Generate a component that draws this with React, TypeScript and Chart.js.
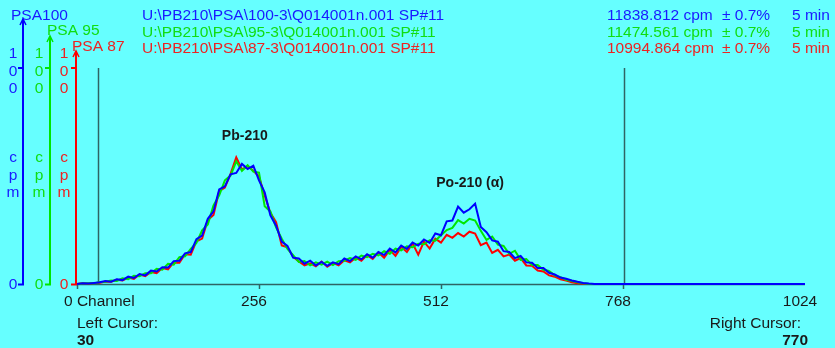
import React, { useEffect, useRef } from "react";
import { Chart, registerables } from "chart.js";

Chart.register(...registerables);

// ---- data (channel grid: every STEP channels from 0, then END_CHANNEL) ----
const STEP = 8;
const END_CHANNEL = 1024;

const BLUE_CPM = [
  0, 0.3, 0.2, 0.5, 0.8, 1.4, 1.1, 2.2, 1.8, 3.4,
  2.8, 4.6, 4.0, 6.2, 5.8, 7.8, 7.6, 10.6, 10.8, 14.2,
  14.8, 20.8, 22.4, 30.2, 33.6, 43.8, 45.2, 50.8, 51.4, 55.6,
  53.2, 54.8, 48.0, 42.4, 31.8, 27.0, 19.6, 17.6, 12.2, 11.8,
  9.4, 10.8, 8.6, 10.2, 8.4, 10.0, 9.2, 11.8, 10.6, 12.8,
  11.4, 13.8, 12.2, 14.8, 13.4, 16.4, 14.6, 17.8, 16.2, 19.2,
  17.8, 20.6, 19.0, 23.4, 22.6, 29.0, 29.4, 35.8, 33.0, 34.6,
  37.2, 26.4, 24.0, 20.2, 19.6, 15.2, 14.8, 12.0, 13.0, 10.0,
  9.8, 7.4, 7.4, 5.2, 4.4, 3.0, 2.4, 1.6, 1.0, 0.5,
  0.2, 0,
];

const GREEN_CPM = [
  0, 0.2, 0.4, 0.3, 0.9, 1.0, 1.6, 1.4, 2.6, 2.2,
  3.8, 3.6, 5.0, 5.0, 7.0, 6.6, 9.4, 9.0, 12.4, 12.8,
  16.2, 19.0, 24.8, 27.6, 36.4, 41.0, 48.0, 50.2, 56.8, 52.4,
  55.0, 52.0, 51.6, 36.0, 33.6, 26.2, 21.0, 16.2, 13.4, 10.2,
  10.6, 8.6, 10.0, 9.0, 10.4, 8.8, 10.6, 10.8, 12.0, 11.2,
  13.2, 12.4, 14.0, 13.2, 15.2, 14.0, 16.4, 15.6, 17.4, 17.0,
  18.6, 18.4, 20.2, 20.0, 22.6, 25.0, 26.0, 29.6, 28.0, 30.2,
  29.4, 24.6, 20.4, 22.0, 18.2, 17.6, 14.0, 15.4, 11.2, 11.6,
  8.8, 8.8, 6.6, 6.0, 4.0, 3.2, 2.0, 1.4, 0.8, 0.3,
  0, 0,
];

const RED_CPM = [
  0, 0.3, 0.1, 0.5, 0.6, 1.2, 1.0, 2.0, 1.6, 3.0,
  2.4, 4.4, 3.6, 5.6, 5.0, 7.4, 6.8, 10.0, 9.8, 13.8,
  13.6, 19.8, 21.0, 29.6, 32.0, 43.0, 44.6, 51.0, 58.6, 53.0,
  54.6, 52.4, 49.8, 41.0, 33.0, 28.6, 17.8, 17.0, 12.6, 10.4,
  8.6, 9.6, 8.2, 10.4, 8.0, 9.8, 8.6, 11.0, 10.0, 12.2,
  10.8, 13.4, 11.6, 14.6, 12.2, 15.8, 13.0, 17.2, 14.8, 18.8,
  13.6, 19.6, 16.4, 21.0, 19.2, 22.8, 21.4, 23.6, 22.0, 24.2,
  23.4, 18.0, 19.2, 14.4, 15.8, 12.8, 13.6, 10.8, 12.0, 8.6,
  8.4, 6.2, 5.8, 4.0, 3.4, 2.2, 1.6, 0.8, 0.4, 0.1,
  0, 0,
];

const X_TICKS = [0, 256, 512, 768, 1024];
const X_TICK_MARKS = [0, 256, 512, 768];
const Y_MAX = 100;
const LEFT_CURSOR = 30;
const RIGHT_CURSOR = 770;

const SERIES_NAMES = ["PSA100", "PSA 95", "PSA 87"];
const FILE_PATHS = [
  "U:\\PB210\\PSA\\100-3\\Q014001n.001 SP#11",
  "U:\\PB210\\PSA\\95-3\\Q014001n.001 SP#11",
  "U:\\PB210\\PSA\\87-3\\Q014001n.001 SP#11",
];
const RATES = ["11838.812 cpm", "11474.561 cpm", "10994.864 cpm"];
const ERRORS = ["\u00b1 0.7%", "\u00b1 0.7%", "\u00b1 0.7%"];
const TIMES = ["5 min", "5 min", "5 min"];

const PEAK_LABELS = ["Pb-210", "Po-210 (\u03b1)"];
const PEAK_CHANNELS = [236, 553];
const PEAK_LEVELS = [68.3, 46.6];

// ---- styles ----
const BG = "#66ffff";
const COLORS = ["#0000ff", "#00e600", "#ff0000"];
const TEXT_COLORS = ["#1a1aff", "#11dd11", "#ee2222"];
const DARK = "#1a1a1a";
const AXIS = "#2f6464";
const FONT = "Liberation Sans, Arial, sans-serif";

const toPoints = (arr: number[]) => [
  ...arr.map((v, i) => ({ x: i * STEP, y: v })),
  { x: END_CHANNEL, y: 0 },
];

const decorPlugin = {
  id: "decor",
  beforeDraw(chart: any) {
    const ctx = chart.ctx;
    ctx.save();
    ctx.fillStyle = BG;
    ctx.fillRect(0, 0, chart.width, chart.height);
    ctx.restore();
  },
  beforeDatasetsDraw(chart: any) {
    const ctx = chart.ctx;
    const xs = chart.scales.x;
    const ys = chart.scales.y;
    const y0 = ys.getPixelForValue(0);
    const yTop = ys.getPixelForValue(Y_MAX);
    ctx.save();
    ctx.strokeStyle = AXIS;
    ctx.lineWidth = 1.5;
    ctx.beginPath();
    ctx.moveTo(xs.getPixelForValue(0), y0 + 0.5);
    ctx.lineTo(xs.getPixelForValue(END_CHANNEL), y0 + 0.5);
    ctx.stroke();
    X_TICK_MARKS.forEach((t) => {
      const px = Math.round(xs.getPixelForValue(t)) + 0.5;
      ctx.beginPath();
      ctx.moveTo(px, y0);
      ctx.lineTo(px, y0 + 5);
      ctx.stroke();
    });
    [LEFT_CURSOR, RIGHT_CURSOR].forEach((c) => {
      const px = Math.round(xs.getPixelForValue(c)) + 0.5;
      ctx.beginPath();
      ctx.moveTo(px, yTop);
      ctx.lineTo(px, y0);
      ctx.stroke();
    });
    ctx.restore();
  },
  afterDraw(chart: any) {
    const ctx = chart.ctx;
    const xs = chart.scales.x;
    const ys = chart.scales.y;
    const y0 = ys.getPixelForValue(0);
    const yTop = ys.getPixelForValue(Y_MAX);
    ctx.save();

    const axisX = [23, 50, 76];
    const axisTop = [19, 36, 51];
    const labelX = [13, 39, 64];
    const nameX = [11, 47, 72];
    const nameY = [16, 31, 47];
    for (let i = 0; i < 3; i++) {
      const ax = axisX[i];
      ctx.strokeStyle = COLORS[i];
      ctx.lineWidth = 2;
      ctx.beginPath();
      ctx.moveTo(ax, axisTop[i]);
      ctx.lineTo(ax, y0 + 0.5);
      ctx.lineTo(ax - 5, y0 + 0.5);
      ctx.stroke();
      ctx.beginPath();
      ctx.moveTo(ax - 5, yTop);
      ctx.lineTo(ax, yTop);
      ctx.stroke();
      ctx.lineWidth = 1.5;
      ctx.beginPath();
      ctx.moveTo(ax - 3, axisTop[i] + 6);
      ctx.lineTo(ax, axisTop[i]);
      ctx.lineTo(ax + 3, axisTop[i] + 6);
      ctx.stroke();

      ctx.fillStyle = TEXT_COLORS[i];
      ctx.font = `15.5px ${FONT}`;
      ctx.textBaseline = "middle";
      ctx.textAlign = "left";
      ctx.fillText(SERIES_NAMES[i], nameX[i], nameY[i]);
      ctx.textAlign = "center";
      const maxChars = String(Y_MAX).split("");
      maxChars.forEach((ch, k) => ctx.fillText(ch, labelX[i], yTop - 14 + k * 17.5));
      ["c", "p", "m"].forEach((ch, k) => ctx.fillText(ch, labelX[i], 158 + k * 17.5));
      ctx.fillText("0", labelX[i], y0 + 0.5);

      ctx.textAlign = "left";
      ctx.fillText(FILE_PATHS[i], 142, 16 + i * 16.5);
      ctx.fillText(RATES[i], 607, 16 + i * 16.5);
      ctx.fillText(ERRORS[i], 722, 16 + i * 16.5);
      ctx.fillText(TIMES[i], 792, 16 + i * 16.5);
    }

    ctx.fillStyle = DARK;
    ctx.font = `15.5px ${FONT}`;
    ctx.textBaseline = "middle";
    X_TICKS.forEach((t) => {
      const px = xs.getPixelForValue(t);
      if (t === 0) {
        ctx.textAlign = "left";
        ctx.fillText("0 Channel", px - 13, 302);
      } else {
        ctx.textAlign = "center";
        ctx.fillText(String(t), px - 5, 302);
      }
    });

    ctx.textAlign = "left";
    ctx.fillText("Left Cursor:", chart.chartArea.left, 324);
    ctx.textAlign = "right";
    ctx.fillText("Right Cursor:", 801, 324);
    ctx.font = `bold 15.5px ${FONT}`;
    ctx.textAlign = "left";
    ctx.fillText(String(LEFT_CURSOR), chart.chartArea.left, 341);
    ctx.textAlign = "right";
    ctx.fillText(String(RIGHT_CURSOR), 808, 341);

    ctx.font = `bold 14px ${FONT}`;
    ctx.textAlign = "center";
    PEAK_LABELS.forEach((lab, i) => {
      ctx.fillText(lab, xs.getPixelForValue(PEAK_CHANNELS[i]), ys.getPixelForValue(PEAK_LEVELS[i]));
    });
    ctx.restore();
  },
};

export default function App() {
  const ref = useRef<HTMLCanvasElement>(null);
  useEffect(() => {
    if (!ref.current) return;
    const mk = (label: string, arr: number[], color: string) => ({
      label,
      data: toPoints(arr),
      borderColor: color,
      backgroundColor: color,
      borderWidth: 2,
      pointRadius: 0,
      tension: 0,
      fill: false,
      clip: false as any,
    });
    const chart = new Chart(ref.current, {
      type: "line",
      data: {
        datasets: [
          mk(SERIES_NAMES[0], BLUE_CPM, COLORS[0]),
          mk(SERIES_NAMES[1], GREEN_CPM, COLORS[1]),
          mk(SERIES_NAMES[2], RED_CPM, COLORS[2]),
        ],
      },
      options: {
        responsive: false,
        animation: false,
        devicePixelRatio: 1,
        layout: { padding: { left: 77, right: 30, top: 68, bottom: 64 } },
        scales: {
          x: { type: "linear", min: 0, max: END_CHANNEL, display: false },
          y: { type: "linear", min: 0, max: Y_MAX, display: false },
        },
        plugins: { legend: { display: false }, tooltip: { enabled: false } },
        events: [],
      },
      plugins: [decorPlugin],
    });
    return () => chart.destroy();
  }, []);
  return (
    <div style={{ position: "fixed", left: 0, top: 0, width: 835, height: 348, background: BG }}>
      <canvas ref={ref} width={835} height={348} style={{ display: "block" }} />
    </div>
  );
}
